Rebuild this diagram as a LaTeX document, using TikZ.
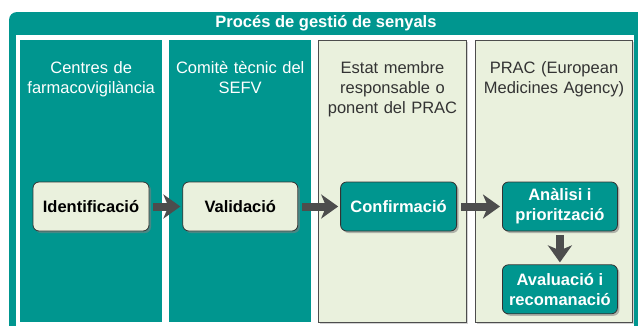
\documentclass[tikz,border=0pt]{standalone}
\usepackage{fontspec}
\setmainfont{Liberation Sans}
\usetikzlibrary{positioning,arrows.meta,shadows}
\definecolor{myteal}{RGB}{0,150,143}
\definecolor{mypale}{RGB}{234,241,221}
\definecolor{mygrey}{RGB}{77,77,77}
\definecolor{mytext}{RGB}{51,51,51}
\tikzset{
		laneTeal/.style = 	{fill=myteal, anchor=north west, minimum height=282pt, inner sep=0},
		laneLight/.style = 	{fill=mypale, draw=mygrey, line width=1pt, anchor=north west, minimum height=282pt, inner sep=0,
		                      drop shadow={shadow xshift=1.5pt, shadow yshift=-1.5pt, opacity=0.35}},
		headTeal/.style = 	{text=white, align=center, text width=140pt, inner sep=0, font=\fontsize{16.5}{20}\selectfont},
		headLight/.style = 	{headTeal, text=mytext},
		stepLight/.style = 	{fill=mypale, draw=mytext, line width=0.8pt, rounded corners=6pt, minimum width=115pt,
		                      minimum height=49pt, align=center, inner sep=0, font=\fontsize{16.5}{20}\selectfont\bfseries,
		                      drop shadow={shadow xshift=2pt, shadow yshift=-2pt, opacity=0.55}},
		stepTeal/.style = 	{stepLight, fill=myteal, text=white},
		flowArrow/.style = 	{draw=mygrey, line width=8pt, -{Stealth[length=17pt, width=24pt, inset=5pt]},
		                      shorten <=4pt, shorten >=2pt},
		node distance=33pt
}

\begin{document}
\begin{tikzpicture}[x=1pt,y=-1pt]
  \clip (0,0) rectangle (638,325);

  % outer frame and title bar
  \fill[myteal, rounded corners=8pt] (9,12) rectangle (650,345);
  \fill[white] (16,35) rectangle (634,345);
  \node[text=white, font=\fontsize{16.5}{20}\selectfont\bfseries] (title) at (326,23) {Procés de gestió de senyals};

  % lanes
  \node[laneTeal,  minimum width=142pt] (laneA) at (20,40) {};
  \node[laneTeal,  minimum width=142pt] (laneB) at (169,40) {};
  \node[laneLight, minimum width=148pt] (laneC) at (318,40) {};
  \node[laneLight, minimum width=157pt] (laneD) at (475,40) {};

  % lane headings
  \node[headTeal,  below=21pt of laneA.north] (headA) {Centres de\\farmacovigilància};
  \node[headTeal,  below=21pt of laneB.north] (headB) {Comitè tècnic del\\SEFV};
  \node[headLight, below=21pt of laneC.north] (headC) {Estat membre\\responsable o\\ponent del PRAC};
  \node[headLight, below=21pt of laneD.north, text width=154pt] (headD) {PRAC (European\\Medicines Agency)};

  % steps
  \node[stepLight, minimum width=116pt] (ident) at (91,206.5) {Identificació};
  \node[stepLight, right=33pt of ident] (valid) {Validació};
  \node[stepTeal,  right=42pt of valid, minimum width=116pt] (confirm) {Confirmació};
  \node[stepTeal,  right=45pt of confirm] (analysis) {Anàlisi i\\priorització};
  \node[stepTeal,  below=of analysis] (assess) {Avaluació i\\recomanació};

  % flow
  \foreach \a/\b in {ident/valid, valid/confirm, confirm/analysis, analysis/assess}
    \draw[flowArrow] (\a) -- (\b);

\end{tikzpicture}
\end{document}
